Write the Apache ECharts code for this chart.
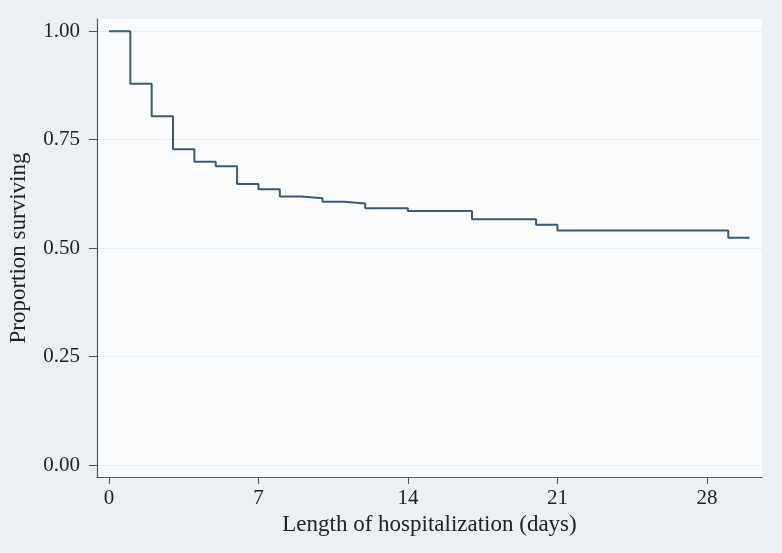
<!DOCTYPE html>
<html>
<head>
<meta charset="utf-8">
<script src="https://cdn.jsdelivr.net/npm/echarts@6/dist/echarts.min.js"></script>
<style>
html,body{margin:0;padding:0;background:#eaf0f4;}
#chart{width:782px;height:553px;}
</style>
</head>
<body>
<div id="chart"></div>
<script>
const days = [0,1,2,3,4,5,6,7,8,9,10,11,12,14,17,20,21,29,30];
const survival = [1.0,0.879,0.804,0.728,0.699,0.689,0.648,0.636,0.619,0.615,0.607,0.603,0.592,0.586,0.567,0.554,0.541,0.524,0.524];
const xTicks = [0,7,14,21,28];
const yTicks = [0,0.25,0.5,0.75,1];

const font = "'Liberation Serif', 'DejaVu Serif', serif";
const chart = echarts.init(document.getElementById('chart'));
chart.setOption({
  backgroundColor: '#eaf0f4',
  animation: false,
  grid: {left: 97, right: 20, top: 19, bottom: 76, show: true, backgroundColor: '#fbfcfd', borderWidth: 0,
    containLabel: false, outerBoundsMode: 'none'},
  xAxis: {
    type: 'value', min: -0.56, max: 30.58, scale: true,
    name: 'Length of hospitalization (days)', nameLocation: 'middle', nameGap: 31,
    nameTextStyle: {fontFamily: font, fontSize: 23, color: '#222'},
    axisLine: {show: true, onZero: false, lineStyle: {color: '#555', width: 1.2}},
    axisTick: {show: true, length: 7, lineStyle: {color: '#555'}, customValues: xTicks},
    axisLabel: {fontFamily: font, fontSize: 21, color: '#222', margin: 11, customValues: xTicks},
    splitLine: {show: false}
  },
  yAxis: {
    type: 'value', min: -0.027, max: 1.028, scale: true,
    name: 'Proportion surviving', nameLocation: 'middle', nameGap: 67,
    nameTextStyle: {fontFamily: font, fontSize: 23, color: '#222'},
    axisLine: {show: true, onZero: false, lineStyle: {color: '#555', width: 1.2}},
    axisTick: {show: true, length: 8, lineStyle: {color: '#555'}, customValues: yTicks},
    axisLabel: {fontFamily: font, fontSize: 21, color: '#222', margin: 17, customValues: yTicks,
      formatter: v => v.toFixed(2)},
    splitLine: {show: true, lineStyle: {color: '#e8eef2', width: 1}}
  },
  series: [{
    type: 'line', step: 'end', symbol: 'none',
    data: days.map((d, i) => [d, survival[i]]),
    lineStyle: {color: '#3d5878', width: 2}
  }]
});
</script>
</body>
</html>
